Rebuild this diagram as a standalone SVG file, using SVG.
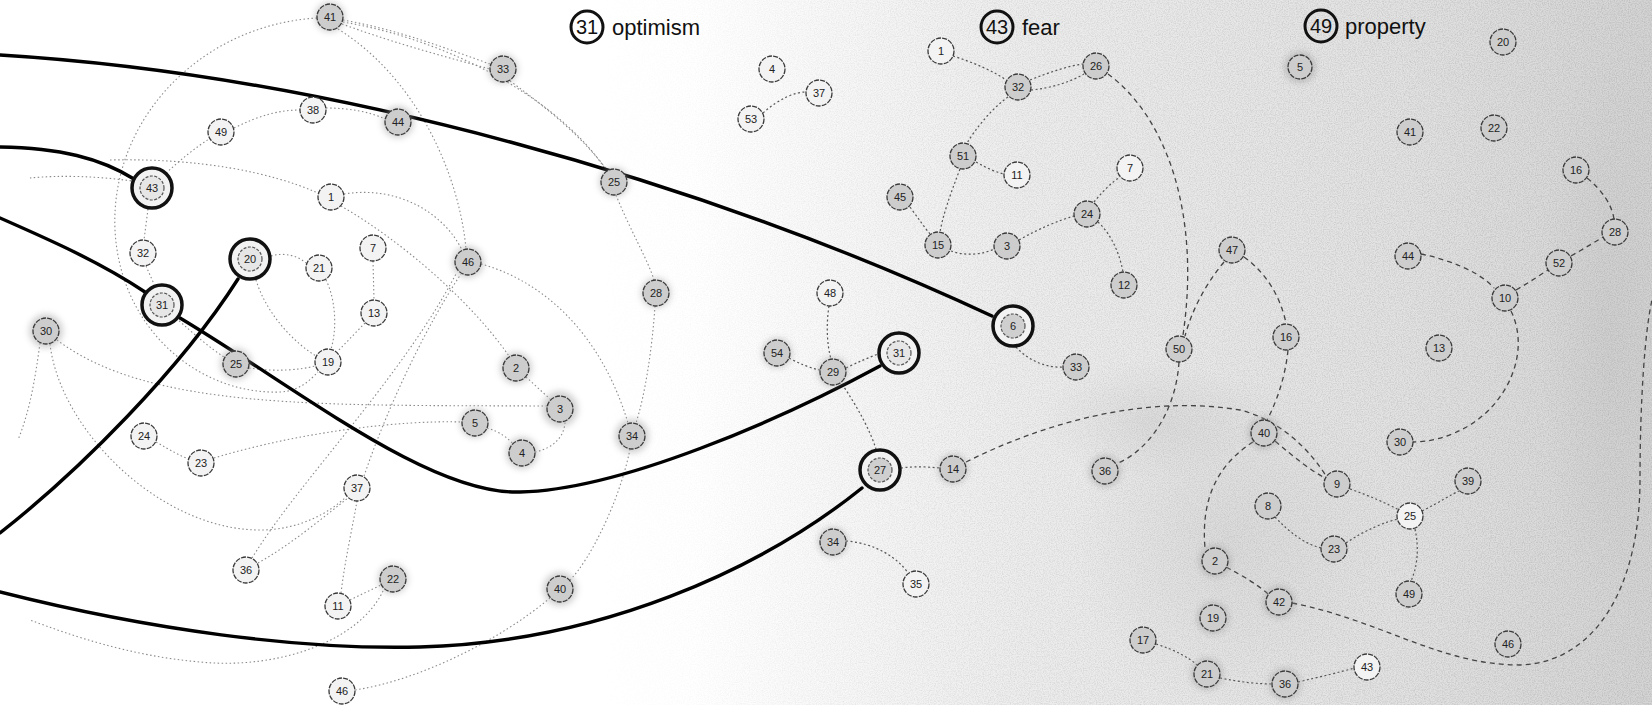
<svg xmlns="http://www.w3.org/2000/svg" width="1652" height="705" viewBox="0 0 1652 705">
<defs>
<linearGradient id="bg" x1="0" y1="0" x2="1" y2="0">
<stop offset="0" stop-color="#ffffff"/>
<stop offset="0.42" stop-color="#ffffff"/>
<stop offset="0.62" stop-color="#ededed"/>
<stop offset="0.85" stop-color="#e2e2e2"/>
<stop offset="1" stop-color="#d4d4d4"/>
</linearGradient>
<radialGradient id="blot" cx="0.5" cy="0.5" r="0.5">
<stop offset="0" stop-color="#bdbdbd" stop-opacity="0.3"/>
<stop offset="1" stop-color="#bdbdbd" stop-opacity="0"/>
</radialGradient>
<linearGradient id="fadeMask" x1="0" y1="0" x2="1" y2="0">
<stop offset="0.36" stop-color="#000"/>
<stop offset="0.58" stop-color="#888"/>
<stop offset="1" stop-color="#fff"/>
</linearGradient>
<mask id="rightMask"><rect x="0" y="0" width="1652" height="705" fill="url(#fadeMask)"/></mask>
<filter id="grain" x="0" y="0" width="100%" height="100%">
<feTurbulence type="fractalNoise" baseFrequency="0.85" numOctaves="2" seed="7"/>
<feColorMatrix type="matrix" values="0 0 0 0 0.35  0 0 0 0 0.35  0 0 0 0 0.35  0 0 0 -1.6 1.0"/>
</filter>
<filter id="soft" x="-50%" y="-50%" width="200%" height="200%"><feGaussianBlur stdDeviation="3"/></filter>
<style>
.t{font-family:"Liberation Sans",Arial,sans-serif;fill:#222;text-anchor:middle;font-size:11px}
.title{font-family:"Liberation Sans",Arial,sans-serif;fill:#111;font-size:22px}
.tnum{font-family:"Liberation Sans",Arial,sans-serif;fill:#111;font-size:20px;text-anchor:middle}
.ring{fill:none;stroke:#111;stroke-width:3}
.nd{fill:#cdcdcd;stroke:#3a3a3a;stroke-width:1.3;stroke-dasharray:5 1.2}
.nw{fill:#f3f3f3;stroke:#3a3a3a;stroke-width:1.3;stroke-dasharray:5 1.2}
.halo{fill:#9a9a9a;opacity:0.45;filter:url(#soft)}
.big{fill:#f2f2f2;stroke:#111;stroke-width:3.5}
.inner{fill:#e6e6e6;stroke:#555;stroke-width:1.2;stroke-dasharray:3 1.5}
.innerd{fill:#cfcfcf;stroke:#555;stroke-width:1.2;stroke-dasharray:3 1.5}
.c1{fill:none;stroke:#8a8a8a;stroke-width:1.1;stroke-dasharray:1.5 2.5}
.c2{fill:none;stroke:#555;stroke-width:1.2;stroke-dasharray:2 2.5}
.c3{fill:none;stroke:#444;stroke-width:1.3;stroke-dasharray:5 4}
.heavy{fill:none;stroke:#000;stroke-width:3.4;stroke-linecap:round}
</style>
</defs>

<g id="background">
<rect x="0" y="0" width="1652" height="705" fill="url(#bg)"/>
<ellipse cx="1230" cy="540" rx="160" ry="170" fill="url(#blot)"/>
<ellipse cx="1150" cy="420" rx="110" ry="60" fill="url(#blot)"/>
<ellipse cx="1610" cy="330" rx="70" ry="280" fill="url(#blot)"/>
<rect x="0" y="0" width="1652" height="705" filter="url(#grain)" mask="url(#rightMask)" opacity="0.6"/>
</g>

<g id="legend">
<g id="legend-31">
<circle class="ring" cx="587" cy="27" r="16"/>
<text class="tnum" x="587" y="34">31</text>
<text class="title" x="612" y="35">optimism</text>
</g>
<g id="legend-43">
<circle class="ring" cx="997" cy="27" r="16"/>
<text class="tnum" x="997" y="34">43</text>
<text class="title" x="1022" y="35">fear</text>
</g>
<g id="legend-49">
<circle class="ring" cx="1321" cy="26" r="16"/>
<text class="tnum" x="1321" y="33">49</text>
<text class="title" x="1345" y="34">property</text>
</g>
</g>

<g id="connectors">
<!-- left cluster -->
<path class="c1" d="M343,20 C400,30 450,50 490,64"/>
<path class="c1" d="M342,24 C400,45 450,58 490,69"/>
<path class="c1" d="M343,22 C450,40 560,100 606,170"/>
<path class="c1" d="M510,81 C550,110 585,140 607,170"/>
<path class="c1" d="M338,29 C420,80 460,180 466,249"/>
<path class="c1" d="M317,18 C200,25 110,120 115,230 C120,330 200,395 280,392 C300,391 310,380 318,372"/>
<path class="c1" d="M110,160 C200,158 270,172 318,193"/>
<path class="c1" d="M139,182 C100,176 60,175 30,178"/>
<path class="c1" d="M163,176 C180,160 195,148 209,139"/>
<path class="c1" d="M234,128 C260,115 280,110 300,110"/>
<path class="c1" d="M326,108 C350,108 370,112 385,119"/>
<path class="c1" d="M148,209 L144,240"/>
<path class="c1" d="M146,266 L154,284"/>
<path class="c1" d="M176,318 C195,335 210,348 224,357"/>
<path class="c1" d="M249,368 C275,372 300,370 315,366"/>
<path class="c1" d="M271,256 C285,252 298,256 306,263"/>
<path class="c1" d="M326,280 C336,300 337,330 331,349"/>
<path class="c1" d="M256,280 C265,310 290,340 316,356"/>
<path class="c1" d="M373,261 L374,300"/>
<path class="c1" d="M365,323 L337,352"/>
<path class="c1" d="M344,194 C400,185 445,215 462,250"/>
<path class="c1" d="M341,206 C400,240 470,300 509,356"/>
<path class="c1" d="M526,377 L550,399"/>
<path class="c1" d="M487,428 C500,432 508,438 513,444"/>
<path class="c1" d="M535,452 C555,448 565,435 565,421"/>
<path class="c1" d="M214,458 C300,432 400,420 462,422"/>
<path class="c1" d="M57,340 C150,410 320,405 547,406"/>
<path class="c1" d="M156,442 C170,450 180,456 189,459"/>
<path class="c1" d="M50,344 C60,430 160,530 260,530 C300,530 330,512 346,497"/>
<path class="c1" d="M40,343 C35,380 30,410 18,440"/>
<path class="c1" d="M258,563 C290,545 320,520 348,498"/>
<path class="c1" d="M252,558 C300,480 400,380 456,274"/>
<path class="c1" d="M364,476 C390,400 430,320 461,274"/>
<path class="c1" d="M341,593 C345,560 352,530 357,501"/>
<path class="c1" d="M350,600 L381,585"/>
<path class="c1" d="M383,591 C360,640 280,670 200,662 C130,656 70,635 30,620"/>
<path class="c1" d="M481,264 C540,280 600,330 628,423"/>
<path class="c1" d="M616,195 C630,230 648,260 654,280"/>
<path class="c1" d="M655,306 C652,350 645,395 636,423"/>
<path class="c1" d="M630,449 C620,500 590,560 570,580"/>
<path class="c1" d="M550,598 C500,640 420,680 355,690"/>
<!-- middle -->
<path class="c2" d="M763,113 C780,98 795,92 806,92"/>
<path class="c2" d="M829,306 C826,325 827,345 831,359"/>
<path class="c2" d="M789,358 C800,364 810,368 820,370"/>
<path class="c2" d="M846,368 C858,362 868,358 878,354"/>
<path class="c2" d="M842,384 C858,408 870,430 876,449"/>
<path class="c2" d="M901,468 C915,466 928,467 940,468"/>
<path class="c3" d="M966,462 C1050,420 1150,395 1240,410 C1280,420 1310,450 1326,476"/>
<path class="c2" d="M846,541 C875,543 898,558 908,573"/>
<!-- fear cluster -->
<path class="c2" d="M953,56 C975,63 995,72 1006,80"/>
<path class="c2" d="M1030,80 C1050,72 1068,66 1083,64"/>
<path class="c2" d="M1031,90 C1052,88 1070,82 1084,74"/>
<path class="c2" d="M1008,97 C990,110 975,130 967,143"/>
<path class="c2" d="M976,162 C987,168 995,172 1004,174"/>
<path class="c2" d="M960,169 C950,195 943,215 940,232"/>
<path class="c2" d="M910,207 C918,218 925,228 930,234"/>
<path class="c2" d="M951,251 C965,256 982,255 994,249"/>
<path class="c2" d="M1019,240 C1040,228 1060,220 1074,216"/>
<path class="c2" d="M1094,202 C1102,192 1112,182 1120,177"/>
<path class="c2" d="M1098,222 C1112,235 1120,255 1123,272"/>
<path class="c2" d="M1016,347 C1030,362 1048,368 1063,367"/>
<!-- right cluster -->
<path class="c3" d="M1108,74 C1170,120 1200,220 1183,335"/>
<path class="c3" d="M1224,262 C1205,285 1192,310 1185,336"/>
<path class="c3" d="M1179,362 C1176,410 1150,450 1116,464"/>
<path class="c3" d="M1244,257 C1265,272 1280,295 1286,323"/>
<path class="c3" d="M1288,350 C1285,380 1275,405 1267,420"/>
<path class="c3" d="M1275,441 C1295,458 1310,470 1325,478"/>
<path class="c3" d="M1253,442 C1225,460 1200,490 1205,548"/>
<path class="c3" d="M1226,567 C1245,577 1258,585 1268,594"/>
<path class="c3" d="M1292,603 C1380,620 1440,665 1520,665 C1600,662 1640,580 1640,480 C1640,400 1645,330 1652,300"/>
<path class="c3" d="M1421,254 C1450,260 1480,272 1494,288"/>
<path class="c3" d="M1511,311 C1530,350 1510,400 1470,425 C1450,437 1430,442 1413,442"/>
<path class="c3" d="M1516,290 C1530,282 1540,275 1548,270"/>
<path class="c3" d="M1571,256 C1585,248 1595,242 1603,237"/>
<path class="c3" d="M1587,178 C1602,190 1612,205 1614,219"/>
<path class="c2" d="M1275,517 C1290,533 1305,544 1321,548"/>
<path class="c2" d="M1346,543 C1365,530 1385,522 1398,519"/>
<path class="c2" d="M1350,489 C1370,496 1388,504 1399,510"/>
<path class="c2" d="M1422,511 C1440,502 1452,494 1459,491"/>
<path class="c2" d="M1415,529 C1420,552 1416,570 1411,581"/>
<path class="c2" d="M1156,644 C1175,650 1188,657 1197,665"/>
<path class="c2" d="M1220,678 C1240,682 1258,684 1272,684"/>
<path class="c2" d="M1298,682 C1320,677 1340,672 1355,668"/>
<!-- heavy lines -->
<path class="heavy" d="M0,55 C330,75 700,180 992,316"/>
<path class="heavy" d="M0,147 C60,148 100,158 134,179"/>
<path class="heavy" d="M0,218 C50,240 100,262 145,292"/>
<path class="heavy" d="M180,318 C300,390 430,495 520,492 C620,490 780,420 880,366"/>
<path class="heavy" d="M0,533 C80,470 180,370 238,279"/>
<path class="heavy" d="M0,592 C150,630 300,650 420,647 C600,642 760,570 862,488"/>
</g>

<g id="nodes">
<!-- left cluster -->
<g id="l41"><circle class="halo" cx="330" cy="17" r="15"/><circle class="nd" cx="330" cy="17" r="13"/><text class="t" x="330" y="21">41</text></g>
<g id="l33"><circle class="halo" cx="503" cy="69" r="15"/><circle class="nd" cx="503" cy="69" r="13"/><text class="t" x="503" y="73">33</text></g>
<g id="l38"><circle class="nw" cx="313" cy="110" r="13"/><text class="t" x="313" y="114">38</text></g>
<g id="l49"><circle class="nw" cx="221" cy="132" r="13"/><text class="t" x="221" y="136">49</text></g>
<g id="l44"><circle class="halo" cx="398" cy="122" r="16"/><circle class="nd" cx="398" cy="122" r="13"/><text class="t" x="398" y="126">44</text></g>
<g id="l43"><circle class="big" cx="152" cy="188" r="20"/><circle class="inner" cx="152" cy="188" r="12"/><text class="t" x="152" y="192">43</text></g>
<g id="l1"><circle class="nw" cx="331" cy="197" r="13"/><text class="t" x="331" y="201">1</text></g>
<g id="l32"><circle class="nw" cx="143" cy="253" r="13"/><text class="t" x="143" y="257">32</text></g>
<g id="l20"><circle class="big" cx="250" cy="259" r="20"/><circle class="inner" cx="250" cy="259" r="12"/><text class="t" x="250" y="263">20</text></g>
<g id="l21"><circle class="nw" cx="319" cy="268" r="13"/><text class="t" x="319" y="272">21</text></g>
<g id="l7"><circle class="nw" cx="373" cy="248" r="13"/><text class="t" x="373" y="252">7</text></g>
<g id="l46a"><circle class="halo" cx="468" cy="262" r="16"/><circle class="nd" cx="468" cy="262" r="13"/><text class="t" x="468" y="266">46</text></g>
<g id="l31"><circle class="big" cx="162" cy="305" r="20"/><circle class="inner" cx="162" cy="305" r="12"/><text class="t" x="162" y="309">31</text></g>
<g id="l13"><circle class="nw" cx="374" cy="313" r="13"/><text class="t" x="374" y="317">13</text></g>
<g id="l30"><circle class="halo" cx="46" cy="331" r="17"/><circle class="nd" cx="46" cy="331" r="13"/><text class="t" x="46" y="335">30</text></g>
<g id="l25"><circle class="halo" cx="236" cy="364" r="16"/><circle class="nd" cx="236" cy="364" r="13"/><text class="t" x="236" y="368">25</text></g>
<g id="l19"><circle class="nw" cx="328" cy="362" r="13"/><text class="t" x="328" y="366">19</text></g>
<g id="l2"><circle class="halo" cx="516" cy="368" r="16"/><circle class="nd" cx="516" cy="368" r="13"/><text class="t" x="516" y="372">2</text></g>
<g id="l3"><circle class="halo" cx="560" cy="409" r="18"/><circle class="nd" cx="560" cy="409" r="13"/><text class="t" x="560" y="413">3</text></g>
<g id="l5"><circle class="halo" cx="475" cy="423" r="15"/><circle class="nd" cx="475" cy="423" r="13"/><text class="t" x="475" y="427">5</text></g>
<g id="l4"><circle class="halo" cx="522" cy="453" r="16"/><circle class="nd" cx="522" cy="453" r="13"/><text class="t" x="522" y="457">4</text></g>
<g id="l24"><circle class="nw" cx="144" cy="436" r="13"/><text class="t" x="144" y="440">24</text></g>
<g id="l23"><circle class="nw" cx="201" cy="463" r="13"/><text class="t" x="201" y="467">23</text></g>
<g id="l37"><circle class="nw" cx="357" cy="488" r="13"/><text class="t" x="357" y="492">37</text></g>
<g id="l36"><circle class="nw" cx="246" cy="570" r="13"/><text class="t" x="246" y="574">36</text></g>
<g id="l22"><circle class="halo" cx="393" cy="579" r="15"/><circle class="nd" cx="393" cy="579" r="13"/><text class="t" x="393" y="583">22</text></g>
<g id="l11"><circle class="nw" cx="338" cy="606" r="13"/><text class="t" x="338" y="610">11</text></g>
<g id="l46b"><circle class="nw" cx="342" cy="691" r="13"/><text class="t" x="342" y="695">46</text></g>
<g id="l40"><circle class="halo" cx="560" cy="589" r="17"/><circle class="nd" cx="560" cy="589" r="13"/><text class="t" x="560" y="593">40</text></g>
<!-- middle -->
<g id="m25"><circle class="halo" cx="614" cy="182" r="15"/><circle class="nd" cx="614" cy="182" r="13"/><text class="t" x="614" y="186">25</text></g>
<g id="m28"><circle class="halo" cx="656" cy="293" r="15"/><circle class="nd" cx="656" cy="293" r="13"/><text class="t" x="656" y="297">28</text></g>
<g id="m34"><circle class="halo" cx="632" cy="436" r="17"/><circle class="nd" cx="632" cy="436" r="13"/><text class="t" x="632" y="440">34</text></g>
<g id="m4"><circle class="nw" cx="772" cy="69" r="13"/><text class="t" x="772" y="73">4</text></g>
<g id="m37"><circle class="nw" cx="819" cy="93" r="13"/><text class="t" x="819" y="97">37</text></g>
<g id="m53"><circle class="nw" cx="751" cy="119" r="13"/><text class="t" x="751" y="123">53</text></g>
<g id="m54"><circle class="halo" cx="777" cy="353" r="15"/><circle class="nd" cx="777" cy="353" r="13"/><text class="t" x="777" y="357">54</text></g>
<g id="m48"><circle class="nw" cx="830" cy="293" r="13"/><text class="t" x="830" y="297">48</text></g>
<g id="m29"><circle class="halo" cx="833" cy="372" r="15"/><circle class="nd" cx="833" cy="372" r="13"/><text class="t" x="833" y="376">29</text></g>
<g id="m31"><circle class="big" cx="899" cy="353" r="20"/><circle class="inner" cx="899" cy="353" r="12"/><text class="t" x="899" y="357">31</text></g>
<g id="m27"><circle class="big" cx="880" cy="470" r="20"/><circle class="innerd" cx="880" cy="470" r="12"/><text class="t" x="880" y="474">27</text></g>
<g id="m14"><circle class="halo" cx="953" cy="469" r="15"/><circle class="nd" cx="953" cy="469" r="13"/><text class="t" x="953" y="473">14</text></g>
<g id="m34b"><circle class="halo" cx="833" cy="542" r="15"/><circle class="nd" cx="833" cy="542" r="13"/><text class="t" x="833" y="546">34</text></g>
<g id="m35"><circle class="nw" cx="916" cy="584" r="13"/><text class="t" x="916" y="588">35</text></g>
<!-- fear cluster -->
<g id="f1"><circle class="nw" cx="941" cy="51" r="13"/><text class="t" x="941" y="55">1</text></g>
<g id="f32"><circle class="nd" cx="1018" cy="87" r="13"/><text class="t" x="1018" y="91">32</text></g>
<g id="f26"><circle class="nd" cx="1096" cy="66" r="13"/><text class="t" x="1096" y="70">26</text></g>
<g id="f51"><circle class="nd" cx="963" cy="156" r="13"/><text class="t" x="963" y="160">51</text></g>
<g id="f11"><circle class="nw" cx="1017" cy="175" r="13"/><text class="t" x="1017" y="179">11</text></g>
<g id="f45"><circle class="nd" cx="900" cy="197" r="13"/><text class="t" x="900" y="201">45</text></g>
<g id="f15"><circle class="nd" cx="938" cy="245" r="13"/><text class="t" x="938" y="249">15</text></g>
<g id="f3"><circle class="nd" cx="1007" cy="246" r="13"/><text class="t" x="1007" y="250">3</text></g>
<g id="f7"><circle class="nw" cx="1130" cy="168" r="13"/><text class="t" x="1130" y="172">7</text></g>
<g id="f24"><circle class="nd" cx="1087" cy="214" r="13"/><text class="t" x="1087" y="218">24</text></g>
<g id="f12"><circle class="nd" cx="1124" cy="285" r="13"/><text class="t" x="1124" y="289">12</text></g>
<g id="f6"><circle class="big" cx="1013" cy="326" r="20"/><circle class="innerd" cx="1013" cy="326" r="12"/><text class="t" x="1013" y="330">6</text></g>
<g id="f33"><circle class="nd" cx="1076" cy="367" r="13"/><text class="t" x="1076" y="371">33</text></g>
<!-- property cluster -->
<g id="p5"><circle class="halo" cx="1300" cy="67" r="16"/><circle class="nd" cx="1300" cy="67" r="12"/><text class="t" x="1300" y="71">5</text></g>
<g id="p20"><circle class="nd" cx="1503" cy="42" r="13"/><text class="t" x="1503" y="46">20</text></g>
<g id="p41"><circle class="nd" cx="1410" cy="132" r="13"/><text class="t" x="1410" y="136">41</text></g>
<g id="p22"><circle class="nd" cx="1494" cy="128" r="13"/><text class="t" x="1494" y="132">22</text></g>
<g id="p16a"><circle class="nd" cx="1576" cy="170" r="13"/><text class="t" x="1576" y="174">16</text></g>
<g id="p28"><circle class="nd" cx="1615" cy="232" r="13"/><text class="t" x="1615" y="236">28</text></g>
<g id="p47"><circle class="nd" cx="1232" cy="250" r="13"/><text class="t" x="1232" y="254">47</text></g>
<g id="p44"><circle class="nd" cx="1408" cy="256" r="13"/><text class="t" x="1408" y="260">44</text></g>
<g id="p52"><circle class="nd" cx="1559" cy="263" r="13"/><text class="t" x="1559" y="267">52</text></g>
<g id="p10"><circle class="nd" cx="1505" cy="298" r="13"/><text class="t" x="1505" y="302">10</text></g>
<g id="p50"><circle class="nd" cx="1179" cy="349" r="13"/><text class="t" x="1179" y="353">50</text></g>
<g id="p16b"><circle class="nd" cx="1286" cy="337" r="13"/><text class="t" x="1286" y="341">16</text></g>
<g id="p13"><circle class="nd" cx="1439" cy="348" r="13"/><text class="t" x="1439" y="352">13</text></g>
<g id="p40"><circle class="halo" cx="1264" cy="433" r="16"/><circle class="nd" cx="1264" cy="433" r="13"/><text class="t" x="1264" y="437">40</text></g>
<g id="p30"><circle class="nd" cx="1400" cy="442" r="13"/><text class="t" x="1400" y="446">30</text></g>
<g id="p36a"><circle class="halo" cx="1105" cy="471" r="16"/><circle class="nd" cx="1105" cy="471" r="13"/><text class="t" x="1105" y="475">36</text></g>
<g id="p9"><circle class="nd" cx="1337" cy="484" r="13"/><text class="t" x="1337" y="488">9</text></g>
<g id="p39"><circle class="nd" cx="1468" cy="481" r="13"/><text class="t" x="1468" y="485">39</text></g>
<g id="p8"><circle class="nd" cx="1268" cy="506" r="13"/><text class="t" x="1268" y="510">8</text></g>
<g id="p25"><circle class="nw" cx="1410" cy="516" r="13"/><text class="t" x="1410" y="520">25</text></g>
<g id="p23"><circle class="nd" cx="1334" cy="549" r="13"/><text class="t" x="1334" y="553">23</text></g>
<g id="p2"><circle class="halo" cx="1215" cy="561" r="16"/><circle class="nd" cx="1215" cy="561" r="13"/><text class="t" x="1215" y="565">2</text></g>
<g id="p49"><circle class="nd" cx="1409" cy="594" r="13"/><text class="t" x="1409" y="598">49</text></g>
<g id="p42"><circle class="halo" cx="1279" cy="602" r="16"/><circle class="nd" cx="1279" cy="602" r="13"/><text class="t" x="1279" y="606">42</text></g>
<g id="p19"><circle class="halo" cx="1213" cy="618" r="16"/><circle class="nd" cx="1213" cy="618" r="13"/><text class="t" x="1213" y="622">19</text></g>
<g id="p46"><circle class="nd" cx="1508" cy="644" r="13"/><text class="t" x="1508" y="648">46</text></g>
<g id="p17"><circle class="nd" cx="1143" cy="640" r="13"/><text class="t" x="1143" y="644">17</text></g>
<g id="p21"><circle class="halo" cx="1207" cy="674" r="16"/><circle class="nd" cx="1207" cy="674" r="13"/><text class="t" x="1207" y="678">21</text></g>
<g id="p36b"><circle class="halo" cx="1285" cy="684" r="16"/><circle class="nd" cx="1285" cy="684" r="13"/><text class="t" x="1285" y="688">36</text></g>
<g id="p43"><circle class="nw" cx="1367" cy="667" r="13"/><text class="t" x="1367" y="671">43</text></g>
</g>
</svg>
